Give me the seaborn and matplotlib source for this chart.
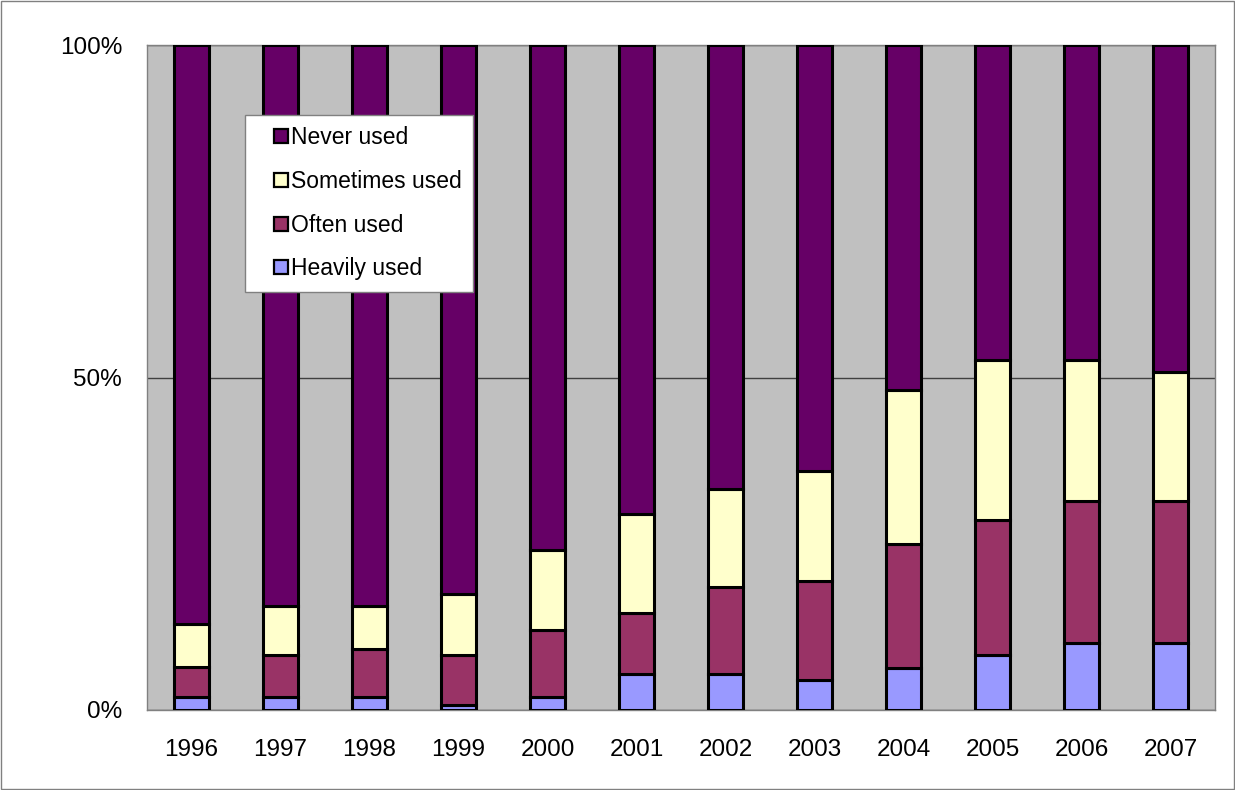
import numpy as np
import pandas as pd
import matplotlib
matplotlib.use('Agg')
import matplotlib.pyplot as plt
from matplotlib.lines import Line2D
from matplotlib.patches import Rectangle
import seaborn as sns

# data (percent of total, per segment)
years = ['1996', '1997', '1998', '1999', '2000', '2001', '2002', '2003', '2004', '2005', '2006', '2007']
heavily = [1.9, 1.9, 1.9, 0.7, 1.9, 5.4, 5.4, 4.5, 6.3, 8.2, 10.1, 10.1]
often = [4.6, 6.4, 7.3, 7.6, 10.1, 9.2, 13.1, 14.9, 18.7, 20.4, 21.3, 21.3]
sometimes = [6.4, 7.4, 6.5, 9.2, 12.0, 14.9, 14.7, 16.6, 23.1, 24.1, 21.3, 19.4]
never = [100 - h - o - s for h, o, s in zip(heavily, often, sometimes)]

series = ['Heavily used', 'Often used', 'Sometimes used', 'Never used']
colors = {'Heavily used': '#9999FF', 'Often used': '#993366',
          'Sometimes used': '#FFFFCC', 'Never used': '#660066'}

df = pd.DataFrame({'Year': years, 'Heavily used': heavily, 'Often used': often,
                   'Sometimes used': sometimes, 'Never used': never})

sns.set_style('white', {'text.color': 'black', 'xtick.color': 'black', 'ytick.color': 'black'})
plt.rcParams['font.family'] = ['Liberation Sans', 'DejaVu Sans']

fig = plt.figure(figsize=(12.35, 7.9), dpi=100)
ax = fig.add_axes([147 / 1235, 1 - 710 / 790, (1215 - 147) / 1235, (710 - 45) / 790])
ax.set_facecolor('#C0C0C0')

bottom = np.zeros(len(years))
for name in series:
    sns.barplot(x='Year', y=name, data=df, ax=ax, color=colors[name], width=0.4,
                bottom=bottom, edgecolor='black', linewidth=2.2, saturation=1, zorder=3)
    bottom = bottom + df[name].to_numpy()

ax.set_xlim(-0.5, len(years) - 0.5)
ax.set_ylim(0, 100)
ax.set_yticks([0, 50, 100])
ax.set_yticklabels(['0%', '50%', '100%'], fontsize=17.5, color='black')
ax.yaxis.grid(True, color='#404040', linewidth=1)
ax.set_axisbelow(True)

# ticks between categories
ax.set_xticks(np.arange(len(years)))
ax.set_xticklabels(years, fontsize=17.5, color='black')
ax.set_xticks(np.arange(-0.5, len(years), 1), minor=True)
ax.tick_params(axis='x', which='major', length=0, pad=21)
ax.tick_params(axis='x', which='minor', length=7, width=1, color='#808080', direction='out')
ax.tick_params(axis='y', length=0, pad=18)
ax.set_xlabel('')
ax.set_ylabel('')

for side in ax.spines:
    ax.spines[side].set_color('#808080')
    ax.spines[side].set_linewidth(1)

handles = [Line2D([], [], linestyle='none', marker='s', markersize=10, markerfacecolor=colors[n],
                  markeredgecolor='black', markeredgewidth=1.6, label=n)
           for n in ['Never used', 'Sometimes used', 'Often used', 'Heavily used']]
leg = ax.legend(handles=handles, loc='upper left', bbox_to_anchor=(245 / 1235, 1 - 115 / 790),
                bbox_transform=fig.transFigure, borderaxespad=0, fontsize=16.5,
                handlelength=2.1, handletextpad=-0.6, labelspacing=0.9,
                borderpad=0.5, frameon=True, fancybox=False, framealpha=1)
leg.get_frame().set_edgecolor('#808080')
leg.get_frame().set_linewidth(1)
for t in leg.get_texts():
    t.set_color('black')
leg.set_zorder(5)

# outer border of the figure
fig.patches.append(Rectangle((0.0005, 0.0008), 0.999, 0.998, transform=fig.transFigure,
                             fill=False, edgecolor='#808080', linewidth=1))

plt.savefig('out.png', dpi=100)
